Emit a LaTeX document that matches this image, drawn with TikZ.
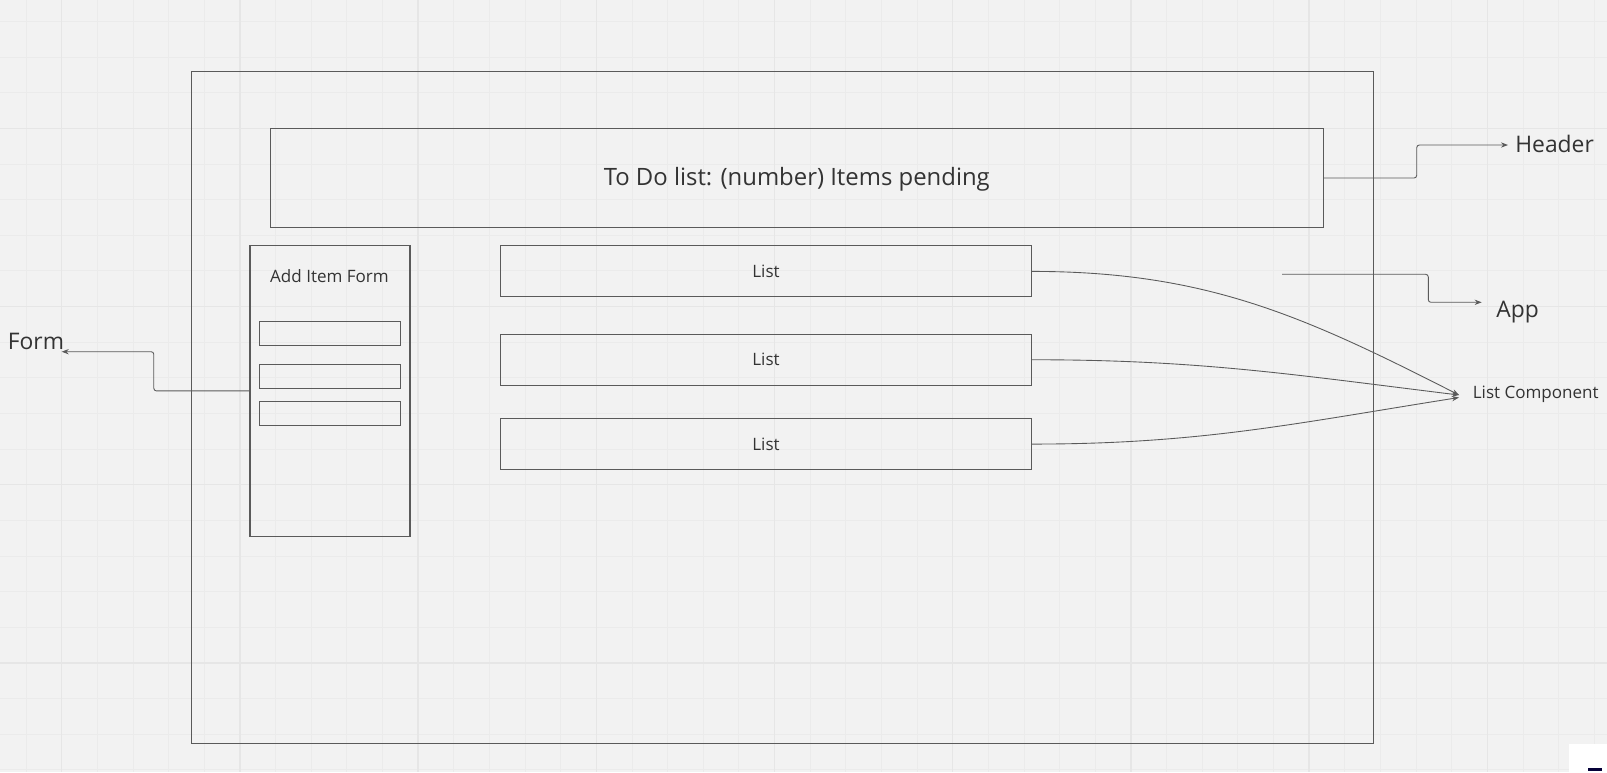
\documentclass[tikz,border=0pt]{standalone}
\usepackage{fontspec}
\setmainfont{Open Sans}
\usetikzlibrary{positioning,arrows.meta}

\definecolor{bg}{HTML}{F2F2F2}
\definecolor{gridmin}{HTML}{EBEBEB}
\definecolor{gridmaj}{HTML}{E6E6E6}
\definecolor{edge}{HTML}{5A5A5A}
\definecolor{ink}{HTML}{333333}
\definecolor{navy}{HTML}{050038}

\tikzset{
  box/.style = {draw=edge, line width=0.6pt, inner sep=0pt, text=ink},
  big/.style = {font=\fontsize{13}{15}\selectfont},
  small/.style = {font=\fontsize{9.7}{11}\selectfont},
  lbl/.style = {inner sep=0pt, text=ink},
  conn/.style = {draw=edge, line width=0.5pt, rounded corners=1.5pt,
                 -{Stealth[length=4pt,width=3pt]}},
  listbox/.style = {box, small, minimum width=10.62cm, minimum height=1.02cm},
  inbox/.style = {box, minimum width=2.83cm, minimum height=0.48cm},
}

\begin{document}
\begin{tikzpicture}[x=0.02cm, y=-0.02cm]
  \useasboundingbox[fill=bg] (0,0) rectangle (1607,772);

  % grid
  \foreach \k in {-1,...,43}
    \draw[gridmin, line width=0.5pt] ({61.7+35.64*\k},0) -- ++(0,772);
  \foreach \k in {-3,...,18}
    \draw[gridmin, line width=0.5pt] (0,{128.3+35.64*\k}) -- ++(1607,0);
  \foreach \k in {0,...,8}
    \draw[gridmaj, line width=0.8pt] ({61.7+178.2*\k},0) -- ++(0,772);
  \foreach \k in {0,...,3}
    \draw[gridmaj, line width=0.8pt] (0,{128.3+178.2*\k}) -- ++(1607,0);

  \node[box, minimum width=23.66cm, minimum height=13.43cm] (app) at (782.5,407.4) {};
  \node[box, font=\fontsize{13.6}{15}\selectfont, text height=0.86em, text depth=0pt,
        minimum width=21.06cm, minimum height=1.99cm] (hdr) at (796.8,178) {To Do list: (number) Items pending};

  \node[box, minimum width=3.2cm, minimum height=5.81cm] (form) at (330,390.9) {};
  \node[lbl, small] (formtitle) at (329.5,276) {Add Item Form};
  \node[inbox] (in1) at (330,333.2) {};
  \node[inbox, below=0.368cm of in1] (in2) {};
  \node[inbox, below=0.232cm of in2] (in3) {};

  \node[listbox] (l1) at (766,271.4) {List};
  \node[listbox, below=0.726cm of l1] (l2) {List};
  \node[listbox, below=0.646cm of l2] (l3) {List};

  \node[lbl, big, anchor=base west] (hdrlbl) at (1515,152) {Header};
  \node[lbl, big, anchor=base west] (applbl) at (1496,317) {App};
  \node[lbl, big, anchor=base west] (formlbl) at (7.5,349) {Form};
  \node[lbl, small, anchor=base west] (lclbl) at (1472.5,398) {List Component};

  \coordinate (hdrend) at (1508,145);
  \coordinate (appstart) at (1282,274.3);
  \coordinate (append) at (1481.7,302.3);
  \coordinate (formend) at (61.7,351.7);
  \coordinate (lcend) at (1459,395);
  \coordinate (lcend3) at (1459,397.5);

  \draw[conn] (hdr.east) -- ++(93,0) |- (hdrend);
  \draw[conn] (appstart) -- ++(146.3,0) |- (append);
  \draw[conn] (form.west) -- ++(-95.7,0) |- (formend);

  \draw[conn] (l1.east) to[out=0, in=153] (lcend);
  \draw[conn] (l2.east) to[out=0, in=173] (lcend);
  \draw[conn] (l3.east) to[out=0, in=189] (lcend3);

  \fill[white] (1569,744) rectangle (1607,772);
  \fill[navy] (1588,767.5) rectangle (1602,770.5);
\end{tikzpicture}
\end{document}
